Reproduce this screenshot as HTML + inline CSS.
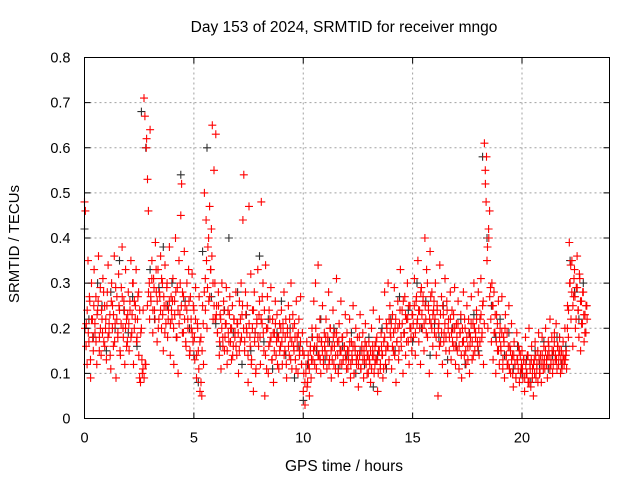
<!DOCTYPE html>
<html><head><meta charset="utf-8"><style>
body{margin:0;background:#fff;}
svg{display:block;font-family:"Liberation Sans",sans-serif;}
</style></head><body>
<svg id="chart" width="640" height="480" viewBox="0 0 640 480" xmlns="http://www.w3.org/2000/svg">
<rect x="0" y="0" width="640" height="480" fill="#fff"/>
<g id="grid"></g>
<g id="black"></g>
<g id="red"></g>
<rect x="84.5" y="57.5" width="525" height="361" fill="none" stroke="#000" stroke-width="1"/>
<g id="ticks"></g>
<text x="344" y="32" font-size="15.5" text-anchor="middle">Day 153 of 2024, SRMTID for receiver mngo</text>
<text x="344" y="471" font-size="15.5" text-anchor="middle">GPS time / hours</text>
<text x="19" y="244" font-size="15" text-anchor="middle" transform="rotate(-90 19 244)">SRMTID / TECUs</text>
</svg>
<script>
const xTicks=[0,5,10,15,20];
const yTicks=[0,0.1,0.2,0.3,0.4,0.5,0.6,0.7,0.8];
const yTickLabels=["0","0.1","0.2","0.3","0.4","0.5","0.6","0.7","0.8"];
const redStep=0.04;
const redValues=[
0.48,0.46,0.21,0.12,0.35,0.17,0.26,0.09,0.30,0.22,0.15,0.33,0.19,0.27,0.12,0.24,0.36,0.18,0.29,0.14,0.22,0.31,0.17,0.25,0.20,
0.13,0.28,0.34,0.19,0.23,0.11,0.30,0.25,0.16,0.36,0.21,0.09,0.27,0.18,0.32,0.24,0.14,0.29,0.38,0.20,0.26,0.12,0.33,0.22,0.17,
0.28,0.15,0.24,0.35,0.19,0.30,0.12,0.26,0.22,0.33,0.18,0.27,0.14,0.09,0.08,0.20,0.10,0.24,0.71,0.67,0.12,0.62,0.53,0.46,0.30,
0.64,0.26,0.35,0.19,0.31,0.24,0.39,0.28,0.17,0.33,0.22,0.27,0.36,0.20,0.30,0.15,0.25,0.34,0.21,0.29,0.18,0.24,0.38,0.14,0.27,
0.22,0.31,0.12,0.26,0.40,0.18,0.29,0.10,0.35,0.23,0.45,0.52,0.28,0.19,0.37,0.25,0.16,0.30,0.22,0.33,0.14,0.27,0.20,0.32,0.17,
0.24,0.13,0.29,0.09,0.21,0.15,0.27,0.06,0.18,0.05,0.25,0.12,0.50,0.31,0.44,0.20,0.38,0.26,0.47,0.33,0.42,0.65,0.22,0.55,0.30,
0.63,0.25,0.19,0.28,0.14,0.23,0.11,0.30,0.18,0.26,0.15,0.21,0.29,0.12,0.24,0.17,0.27,0.20,0.13,0.25,0.16,0.22,0.19,0.28,0.14,
0.21,0.10,0.26,0.17,0.30,0.23,0.44,0.54,0.15,0.28,0.20,0.25,0.08,0.47,0.18,0.32,0.13,0.24,0.06,0.28,0.19,0.11,0.22,0.33,0.16,
0.26,0.12,0.48,0.21,0.30,0.15,0.05,0.34,0.20,0.27,0.10,0.24,0.17,0.29,0.13,0.22,0.08,0.19,0.26,0.14,0.23,0.18,0.11,0.21,0.16,
0.24,0.12,0.19,0.28,0.15,0.22,0.09,0.20,0.25,0.14,0.18,0.30,0.11,0.23,0.16,0.21,0.13,0.26,0.18,0.10,0.22,0.15,0.27,0.12,0.19,
0.06,0.14,0.03,0.10,0.17,0.08,0.12,0.05,0.15,0.09,0.20,0.13,0.26,0.16,0.30,0.11,0.18,0.34,0.14,0.22,0.10,0.17,0.25,0.13,0.19,
0.15,0.22,0.11,0.18,0.28,0.13,0.20,0.09,0.16,0.24,0.12,0.19,0.14,0.31,0.17,0.10,0.21,0.15,0.26,0.12,0.18,0.08,0.16,0.23,0.13,
0.19,0.11,0.15,0.22,0.09,0.17,0.13,0.25,0.10,0.16,0.20,0.12,0.14,0.07,0.18,0.23,0.11,0.15,0.19,0.09,0.13,0.21,0.16,0.10,0.14,
0.17,0.12,0.08,0.20,0.14,0.24,0.10,0.16,0.13,0.18,0.06,0.15,0.22,0.11,0.19,0.14,0.09,0.17,0.28,0.12,0.21,0.16,0.30,0.13,0.25,
0.18,0.11,0.23,0.15,0.29,0.20,0.08,0.17,0.26,0.13,0.21,0.33,0.16,0.24,0.10,0.19,0.27,0.14,0.22,0.30,0.17,0.12,0.25,0.20,0.15,
0.23,0.18,0.31,0.14,0.26,0.21,0.35,0.17,0.24,0.12,0.29,0.20,0.27,0.15,0.40,0.22,0.33,0.18,0.25,0.10,0.37,0.21,0.28,0.16,0.24,
0.19,0.30,0.14,0.25,0.05,0.21,0.34,0.17,0.27,0.12,0.23,0.19,0.31,0.15,0.26,0.10,0.22,0.18,0.28,0.13,0.24,0.20,0.16,0.29,0.12,
0.21,0.15,0.26,0.11,0.19,0.23,0.09,0.17,0.28,0.14,0.20,0.12,0.25,0.16,0.22,0.10,0.18,0.27,0.13,0.21,0.30,0.15,0.19,0.24,0.17,
0.28,0.14,0.22,0.31,0.18,0.25,0.12,0.61,0.55,0.48,0.35,0.20,0.40,0.46,0.29,0.17,0.25,0.13,0.28,0.19,0.10,0.23,0.15,0.26,0.12,
0.20,0.15,0.27,0.11,0.18,0.09,0.23,0.14,0.19,0.12,0.25,0.16,0.10,0.21,0.14,0.07,0.17,0.12,0.09,0.19,0.13,0.16,0.08,0.14,0.11,
0.15,0.09,0.13,0.06,0.18,0.10,0.14,0.08,0.20,0.12,0.07,0.16,0.11,0.05,0.13,0.17,0.09,0.12,0.15,0.19,0.10,0.14,0.08,0.18,0.12,
0.16,0.11,0.20,0.13,0.09,0.17,0.14,0.22,0.12,0.18,0.10,0.15,0.19,0.13,0.21,0.11,0.16,0.14,0.18,0.10,0.15,0.12,0.17,0.13,0.20,
0.14,0.11,0.25,0.18,0.39,0.30,0.22,0.35,0.16,0.27,0.33,0.20,0.29,0.36,0.24,0.18,0.31,0.15,0.26,0.21,0.28,0.17,0.23,0.19,0.25];
const red2Start=0.025;
const red2Step=0.05;
const red2Values=[
0.20,0.16,0.24,0.19,0.27,0.13,0.22,0.18,0.25,0.21,0.17,0.23,0.26,0.15,0.20,0.24,0.19,0.28,0.16,0.22,
0.25,0.18,0.21,0.14,0.26,0.20,0.23,0.17,0.29,0.22,0.19,0.25,0.15,0.21,0.27,0.18,0.24,0.20,0.16,0.23,
0.21,0.26,0.18,0.23,0.30,0.20,0.25,0.17,0.22,0.28,0.24,0.19,0.13,0.11,0.09,0.12,0.60,0.25,0.28,0.22,
0.27,0.31,0.24,0.29,0.22,0.33,0.26,0.20,0.28,0.24,0.31,0.23,0.27,0.19,0.25,0.30,0.22,0.26,0.21,0.24,
0.26,0.20,0.23,0.28,0.18,0.24,0.21,0.30,0.25,0.19,0.27,0.22,0.17,0.24,0.20,0.26,0.15,0.22,0.19,0.25,
0.18,0.22,0.14,0.20,0.11,0.17,0.08,0.15,0.21,0.28,0.24,0.35,0.29,0.40,0.27,0.33,0.36,0.30,0.25,0.22,
0.23,0.19,0.25,0.17,0.22,0.20,0.16,0.24,0.18,0.21,0.15,0.19,0.23,0.17,0.20,0.14,0.22,0.18,0.16,0.21,
0.19,0.15,0.22,0.18,0.25,0.20,0.17,0.23,0.19,0.14,0.21,0.16,0.12,0.20,0.24,0.17,0.10,0.21,0.18,0.23,
0.18,0.22,0.27,0.19,0.24,0.14,0.11,0.20,0.16,0.22,0.18,0.13,0.19,0.15,0.21,0.17,0.12,0.18,0.15,0.20,
0.17,0.21,0.14,0.18,0.12,0.19,0.16,0.22,0.13,0.17,0.20,0.15,0.18,0.11,0.16,0.19,0.14,0.17,0.12,0.15,
0.10,0.08,0.12,0.07,0.14,0.11,0.16,0.13,0.18,0.15,0.12,0.20,0.16,0.14,0.18,0.13,0.17,0.15,0.12,0.16,
0.18,0.14,0.17,0.12,0.20,0.15,0.13,0.18,0.16,0.11,0.19,0.14,0.17,0.12,0.15,0.18,0.13,0.16,0.14,0.11,
0.15,0.13,0.17,0.12,0.14,0.16,0.10,0.15,0.13,0.18,0.12,0.14,0.11,0.16,0.13,0.15,0.17,0.12,0.14,0.10,
0.13,0.15,0.11,0.16,0.14,0.12,0.17,0.13,0.10,0.15,0.12,0.16,0.14,0.11,0.18,0.15,0.20,0.16,0.22,0.19,
0.21,0.16,0.19,0.14,0.22,0.17,0.20,0.15,0.24,0.18,0.21,0.26,0.19,0.23,0.17,0.22,0.25,0.20,0.18,0.23,
0.21,0.25,0.19,0.27,0.22,0.24,0.20,0.28,0.23,0.26,0.21,0.25,0.19,0.30,0.24,0.22,0.27,0.20,0.23,0.26,
0.22,0.18,0.24,0.20,0.16,0.23,0.19,0.25,0.17,0.21,0.18,0.24,0.20,0.15,0.22,0.19,0.17,0.23,0.20,0.16,
0.18,0.21,0.16,0.19,0.14,0.20,0.17,0.22,0.15,0.18,0.13,0.19,0.16,0.21,0.17,0.14,0.20,0.18,0.22,0.16,
0.20,0.17,0.23,0.19,0.26,0.21,0.52,0.58,0.38,0.42,0.27,0.22,0.30,0.25,0.19,0.23,0.17,0.21,0.15,0.18,
0.16,0.19,0.13,0.17,0.20,0.14,0.12,0.16,0.11,0.15,0.13,0.10,0.14,0.12,0.09,0.13,0.11,0.15,0.10,0.12,
0.11,0.13,0.09,0.12,0.10,0.14,0.08,0.11,0.13,0.09,0.12,0.10,0.14,0.11,0.08,0.13,0.10,0.12,0.14,0.11,
0.13,0.15,0.12,0.14,0.16,0.11,0.13,0.15,0.12,0.17,0.14,0.13,0.16,0.12,0.15,0.13,0.11,0.14,0.12,0.13,
0.15,0.20,0.24,0.30,0.34,0.28,0.25,0.31,0.27,0.22,0.29,0.24,0.32,0.26,0.21,0.28,0.23,0.19,0.25,0.22];
const blackStep=0.2;
const blackValues=[
0.42,0.22,0.18,0.30,0.25,0.15,0.28,0.20,0.35,0.24,
0.19,0.27,0.16,0.68,0.60,0.33,0.22,0.29,0.38,0.25,
0.30,0.18,0.54,0.26,0.20,0.14,0.08,0.37,0.60,0.27,
0.21,0.16,0.24,0.40,0.19,0.28,0.12,0.23,0.15,0.19,
0.36,0.17,0.22,0.11,0.19,0.26,0.14,0.20,0.09,0.16,
0.04,0.12,0.18,0.15,0.22,0.13,0.17,0.20,0.11,0.16,
0.14,0.19,0.10,0.15,0.12,0.18,0.07,0.14,0.20,0.11,
0.22,0.15,0.27,0.19,0.24,0.17,0.30,0.20,0.26,0.14,
0.21,0.18,0.25,0.13,0.20,0.16,0.22,0.12,0.19,0.23,
0.15,0.58,0.40,0.25,0.18,0.22,0.14,0.19,0.11,0.16,
0.10,0.13,0.08,0.15,0.12,0.17,0.11,0.14,0.18,0.12,
0.16,0.35,0.28,0.22,0.30];

const NS="http://www.w3.org/2000/svg";
const L=84.5,R=609.5,T=57.5,B=418.5,XMAX=24,YMAX=0.8;
function xs(v){return L+(R-L)*v/XMAX;}
function ys(v){return B-(B-T)*v/YMAX;}
function mk(tag,attrs,parent){const e=document.createElementNS(NS,tag);for(const k in attrs)e.setAttribute(k,attrs[k]);parent.appendChild(e);return e;}
const grid=document.getElementById('grid'),ticks=document.getElementById('ticks');
xTicks.forEach((t,i)=>{
  const x=xs(t);
  if(t>0){const g=mk('line',{x1:x,x2:x,y1:T,y2:B,stroke:'#a0a0a0','stroke-dasharray':'2,3'},grid);
  
  }
  const tk=mk('path',{d:`M${x} ${B}v-6M${x} ${T}v6`,stroke:'#000'},ticks);
  
  
  const lb=mk('text',{x:x,y:B+24,'font-size':14.5,'text-anchor':'middle'},ticks);
  lb.textContent=String(t);
  
  
});
yTicks.forEach((t,i)=>{
  const y=ys(t);
  if(t>0&&t<YMAX){const g=mk('line',{x1:L,x2:R,y1:y,y2:y,stroke:'#a0a0a0','stroke-dasharray':'2,3'},grid);
  
  }
  const tk=mk('path',{d:`M${L} ${y}h6M${R} ${y}h-6`,stroke:'#000'},ticks);
  
  
  const lb=mk('text',{x:L-14,y:y+5,'font-size':14.5,'text-anchor':'end'},ticks);
  lb.textContent=yTickLabels[i];
  
  
});
function drawSeries(vals,start,step,gid,color,name){
  const g=document.getElementById(gid);
  let d='';
  vals.forEach((v,i)=>{const x=xs(start+i*step),y=ys(v);d+=`M${(x-4).toFixed(1)} ${y.toFixed(1)}h8M${x.toFixed(1)} ${(y-4).toFixed(1)}v8`;});
  const p=mk('path',{d:d,stroke:color,'stroke-width':1.1,fill:'none'},g);
  
  
}
drawSeries(blackValues,0,blackStep,'black','#303030','black-points');
drawSeries(redValues,0,redStep,'red','#ff0000','red-points');
drawSeries(red2Values,red2Start,red2Step,'red','#ff0000','red-points-2');
</script>
</body></html>
